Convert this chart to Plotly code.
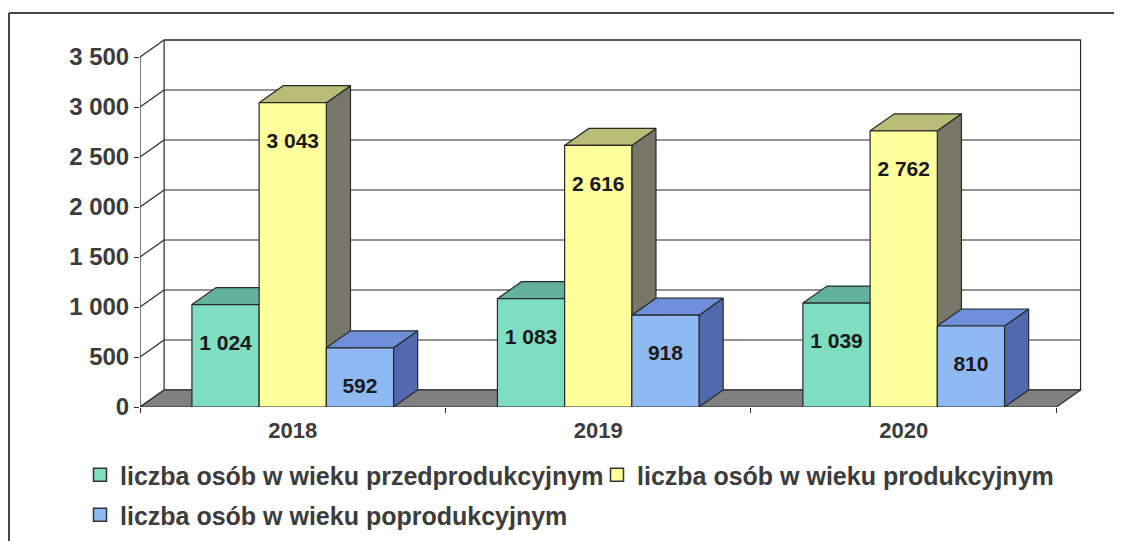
import plotly.graph_objects as go

# ---------------- data ----------------
years = ["2018", "2019", "2020"]
series_names = [
    "liczba osób w wieku przedprodukcyjnym",
    "liczba osób w wieku produkcyjnym",
    "liczba osób w wieku poprodukcyjnym",
]
przedprodukcyjny = [1024, 1083, 1039]
produkcyjny = [3043, 2616, 2762]
poprodukcyjny = [592, 918, 810]
y_tick_values = [0, 500, 1000, 1500, 2000, 2500, 3000, 3500]
y_tick_labels = ["0", "500", "1 000", "1 500", "2 000", "2 500", "3 000", "3 500"]

# ---------------- style ----------------
front_colors = ["#7FDEC1", "#FFFF9C", "#8FB9F2"]
top_colors = ["#63B29C", "#B9BD78", "#6E90DA"]
side_colors = ["#4F8F7C", "#77776A", "#5169AE"]
edge = "#2a2a2a"
FONT = "Liberation Sans, Arial, sans-serif"

BW = 0.22      # bar width (x units)
DX = 0.079     # depth offset in x units
DY = 170       # depth offset in y units
X0, X1 = -0.5, 2.5
YMAX = 3500

values = [przedprodukcyjny, produkcyjny, poprodukcyjny]
xs = list(range(len(years)))

fig = go.Figure()


def poly(points_list, color, width=1.2, lc=edge):
    px, py = [], []
    for pts in points_list:
        for (a, b) in pts:
            px.append(a)
            py.append(b)
        px.append(pts[0][0])
        py.append(pts[0][1])
        px.append(None)
        py.append(None)
    fig.add_trace(go.Scatter(x=px, y=py, mode="lines", fill="toself",
                             fillcolor=color, line=dict(color=lc, width=width),
                             hoverinfo="skip", showlegend=False))


def lines(segs, color=edge, width=1.2):
    px, py = [], []
    for (a, b), (c, d) in segs:
        px += [a, c, None]
        py += [b, d, None]
    fig.add_trace(go.Scatter(x=px, y=py, mode="lines",
                             line=dict(color=color, width=width),
                             hoverinfo="skip", showlegend=False))


# back wall
poly([[(X0 + DX, DY), (X1 + DX, DY), (X1 + DX, YMAX + DY), (X0 + DX, YMAX + DY)]], "white")
# back gridlines
lines([((X0 + DX, v + DY), (X1 + DX, v + DY)) for v in y_tick_values])
# side wall: slanted tick lines and front axis
lines([((X0, v), (X0 + DX, v + DY)) for v in y_tick_values])
lines([((X0, 0), (X0, YMAX))])
# floor
poly([[(X0, 0), (X1, 0), (X1 + DX, DY), (X0 + DX, DY)]], "#808080")

# bars (painter's order: left to right)
for i, vals in enumerate(values):
    fronts, tops, sides = [], [], []
    for c, v in zip(xs, vals):
        a = c - 1.5 * BW + i * BW
        b = a + BW
        fronts.append([(a, 0), (b, 0), (b, v), (a, v)])
        tops.append([(a, v), (b, v), (b + DX, v + DY), (a + DX, v + DY)])
        sides.append([(b, 0), (b + DX, DY), (b + DX, v + DY), (b, v)])
    poly(sides, side_colors[i])
    poly(tops, top_colors[i])
    poly(fronts, front_colors[i])

# data labels
lx, ly, lt = [], [], []
for i, vals in enumerate(values):
    for c, v in zip(xs, vals):
        lx.append(c - 1.5 * BW + i * BW + BW / 2)
        ly.append(v - 400)
        lt.append(f"{v:,}".replace(",", " "))
fig.add_trace(go.Scatter(x=lx, y=ly, mode="text", text=lt,
                         textfont=dict(family=FONT, size=21, color="#1a1a1a", weight="bold"),
                         hoverinfo="skip", showlegend=False))

# legend entries (one legend box per entry for exact placement)
legend_ids = ["legend", "legend2", "legend3"]
for i, name in enumerate(series_names):
    fig.add_trace(go.Scatter(x=[None], y=[None], mode="markers", name=name,
                             marker=dict(symbol="square", size=13, color=front_colors[i],
                                         line=dict(color="#333333", width=1.5)),
                             legend=legend_ids[i]))

# page offset: the html body has an 8px margin
OFF = 8
W, H = 1122 - OFF, 541 - OFF
L, R, T, B = 140 - OFF, 35, 37 - OFF, 134
pw, ph = W - L - R, H - T - B


def px2paper_x(p):
    return (p - OFF - L) / pw


def px2paper_y(p):
    return (H - B - (p - OFF)) / ph


def cx(p):
    return (p - OFF) / W


def cy(p):
    return 1 - (p - OFF) / H


legend_font = dict(family=FONT, size=25, color="#3c3c3c", weight="bold")


def leg(xpage, ypage):
    return dict(orientation="h", xref="container", yref="container",
                x=cx(xpage), y=cy(ypage), xanchor="left", yanchor="middle",
                font=legend_font, bgcolor="rgba(0,0,0,0)", itemwidth=30)


fig.update_layout(
    width=W, height=H,
    margin=dict(l=L, r=R, t=T, b=B, autoexpand=False),
    paper_bgcolor="white", plot_bgcolor="white",
    xaxis=dict(range=[X0, X1 + 0.1], tickvals=xs, ticktext=years, ticks="",
               showgrid=False, zeroline=False, showline=False,
               tickfont=dict(family=FONT, size=22, color="#3c3c3c", weight="bold"),
               minor=dict(tickvals=[-0.5, 0.5, 1.5, 2.5], ticks="outside", ticklen=5,
                          tickcolor=edge, tickwidth=1.2),
               ticklabelstandoff=8, fixedrange=True, automargin=False),
    yaxis=dict(range=[0, YMAX + DY + 30], tickvals=y_tick_values, ticktext=y_tick_labels,
               ticks="outside", ticklen=5, tickcolor=edge, tickwidth=1.2,
               showgrid=False, zeroline=False, showline=False,
               tickfont=dict(family=FONT, size=24, color="#3c3c3c", weight="bold"),
               fixedrange=True, automargin=False),
    legend=leg(80, 475),
    legend2=leg(597, 475),
    legend3=leg(80, 515),
    shapes=[
        dict(type="line", xref="paper", yref="paper",
             x0=px2paper_x(9), x1=px2paper_x(9), y0=px2paper_y(13), y1=px2paper_y(541),
             line=dict(color="#444444", width=2)),
        dict(type="line", xref="paper", yref="paper",
             x0=px2paper_x(9), x1=px2paper_x(1122), y0=px2paper_y(13), y1=px2paper_y(13),
             line=dict(color="#444444", width=2)),
    ],
)

fig.write_html("out.html")
